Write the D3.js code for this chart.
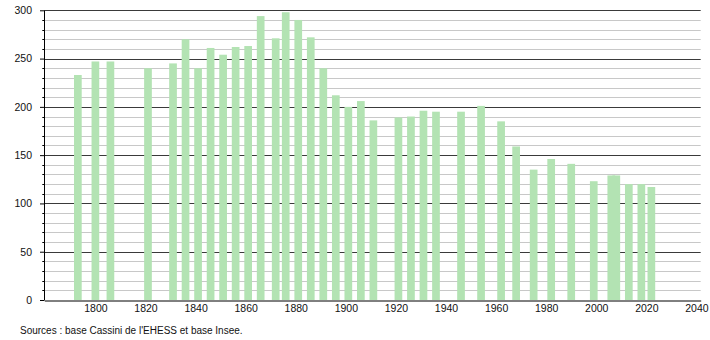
<!DOCTYPE html>
<html>
<head>
<meta charset="utf-8">
<script src="https://cdn.jsdelivr.net/npm/d3@7/dist/d3.min.js"></script>
<style>
  html, body { margin: 0; padding: 0; background: #fff; }
  svg { display: block; }
</style>
</head>
<body>
<svg id="chart" width="710" height="340"></svg>
<script>
// census years and population
var years = [1793, 1800, 1806, 1821, 1831, 1836, 1841, 1846, 1851, 1856,
             1861, 1866, 1872, 1876, 1881, 1886, 1891, 1896, 1901, 1906,
             1911, 1921, 1926, 1931, 1936, 1946, 1954, 1962, 1968, 1975,
             1982, 1990, 1999, 2006, 2008, 2013, 2018, 2022];
var population = [233, 247, 247, 240, 245, 270, 240, 261, 254, 262,
                  263, 294, 271, 298, 290, 272, 240, 212, 200, 206,
                  186, 189, 190, 196, 195, 195, 201, 185, 159, 135,
                  146, 141, 123, 129, 129, 120, 120, 117];
var yTicks = [0, 50, 100, 150, 200, 250, 300];
var xTicks = [1800, 1820, 1840, 1860, 1880, 1900, 1920, 1940, 1960, 1980, 2000, 2020, 2040];
var source = "Sources : base Cassini de l'EHESS et base Insee.";

(function () {
    // ── geometry ──────────────────────────────────────────────────────
    var pL = 44.3, pR = 700.7, pT = 10.3, pB = 300;
    var barW = 7.7;
    var font = '"Liberation Sans", Arial, sans-serif';

    var svg = d3.select('#chart');

    var x = d3.scaleLinear().domain([1779.6, 2041.7]).range([pL, pR]);
    var y = d3.scaleLinear().domain([0, 300]).range([pB, pT]);

    function yy(d) { return Math.round(y(d)) + 0.5; }

    // minor grid every 10
    var minor = d3.range(10, 300, 10).filter(function (v) { return v % 50 !== 0; });
    svg.append('g').selectAll('line').data(minor).enter().append('line')
        .attr('x1', pL).attr('x2', pR)
        .attr('y1', yy).attr('y2', yy)
        .attr('stroke', '#c8c8c8').attr('stroke-width', 1);

    // major grid every 50
    svg.append('g').selectAll('line').data(yTicks.slice(1)).enter().append('line')
        .attr('x1', pL).attr('x2', pR)
        .attr('y1', yy).attr('y2', yy)
        .attr('stroke', '#3a3a3a').attr('stroke-width', 1);

    // ── bars ──────────────────────────────────────────────────────────
    svg.append('g').selectAll('rect').data(years).enter().append('rect')
        .attr('x', function (d) { return x(d) - barW / 2; })
        .attr('y', function (d, i) { return y(population[i]); })
        .attr('width', barW)
        .attr('height', function (d, i) { return pB - y(population[i]); })
        .attr('fill', '#b3e3b3');

    // ── axes ──────────────────────────────────────────────────────────
    var yAxis = d3.axisLeft(y).tickValues(yTicks).tickSize(4).tickPadding(8);
    var gy = svg.append('g').attr('transform', 'translate(' + Math.round(pL) + ',0)').call(yAxis);
    gy.select('.domain').remove();
    gy.selectAll('.tick line').attr('stroke', '#000');
    gy.selectAll('text').attr('font-family', font).attr('font-size', '10.5px').attr('fill', '#111');

    // minor ticks
    svg.append('g').selectAll('line').data(minor).enter().append('line')
        .attr('x1', pL - 2).attr('x2', pL)
        .attr('y1', yy).attr('y2', yy)
        .attr('stroke', '#000');

    svg.append('line')
        .attr('x1', Math.round(pL) + 0.5).attr('x2', Math.round(pL) + 0.5)
        .attr('y1', pT).attr('y2', pB + 0.5)
        .attr('stroke', '#000');

    var xAxis = d3.axisBottom(x).tickValues(xTicks).tickSize(0).tickPadding(4).tickFormat(d3.format('d'));
    var gx = svg.append('g').attr('transform', 'translate(0,' + (pB + 0.5) + ')').call(xAxis);
    gx.select('.domain').attr('stroke', '#000');
    gx.selectAll('text').attr('font-family', font).attr('font-size', '10.5px').attr('fill', '#111');

    svg.append('text')
        .attr('x', 20).attr('y', 334)
        .attr('font-family', font).attr('font-size', '10px').attr('fill', '#111')
        .text(source);
})();
</script>
</body>
</html>
